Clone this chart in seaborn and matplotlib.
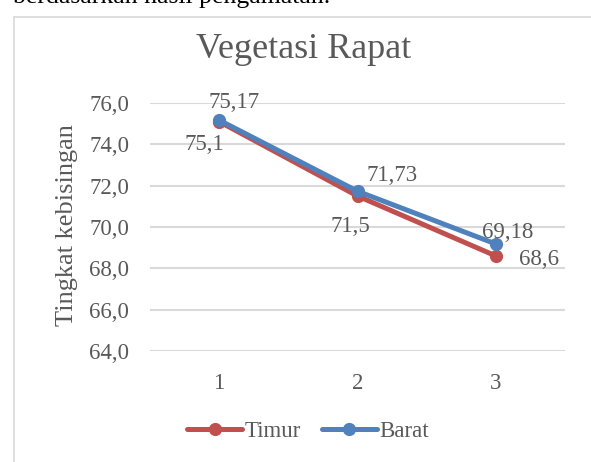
import matplotlib
matplotlib.use("Agg")
import matplotlib.pyplot as plt
import pandas as pd
import seaborn as sns

# data
titik = [1, 2, 3]
timur = [75.1, 71.5, 68.6]
barat = [75.17, 71.73, 69.18]
label_timur = ["75,1", "71,5", "68,6"]
label_barat = ["75,17", "71,73", "69,18"]
yticks = [64, 66, 68, 70, 72, 74, 76]

df = pd.DataFrame({
    "titik": titik * 2,
    "nilai": timur + barat,
    "arah": ["Timur"] * 3 + ["Barat"] * 3,
})

sns.set_theme(style="white")
plt.rcParams["font.family"] = ["Liberation Serif", "DejaVu Serif"]

GRAY = "#595959"
GRID = "#D9D9D9"
palette = {"Timur": "#C0504D", "Barat": "#4F81BD"}

fig = plt.figure(figsize=(5.91, 4.62), dpi=100)
ax = fig.add_axes([150 / 591, 1 - 351 / 462, 415 / 591, 248 / 462])

sns.lineplot(
    data=df, x="titik", y="nilai", hue="arah", hue_order=["Timur", "Barat"],
    palette=palette, marker="o", markersize=9.5, markeredgewidth=0,
    linewidth=3.6, ax=ax, legend=False,
)

ax.set_xlim(0.5, 3.5)
ax.set_ylim(64, 76)
ax.set_yticks(yticks)
ax.set_yticklabels([f"{v:.1f}".replace(".", ",") for v in yticks])
ax.set_xticks(titik)
ax.set_xticklabels([str(t) for t in titik])
ax.yaxis.grid(True, color=GRID, linewidth=1.5, zorder=0)
ax.set_axisbelow(True)
for s in ax.spines.values():
    s.set_visible(False)
ax.tick_params(axis="both", length=0, labelsize=16.5, labelcolor=GRAY)
ax.tick_params(axis="y", pad=15)
ax.tick_params(axis="x", pad=16)
ax.set_xlabel("")
ax.set_ylabel("")
fig.text(67 / 591, 1 - 225 / 462, "Tingkat kebisingan", rotation=90,
         ha="center", va="center", fontsize=19, color=GRAY)

# data labels (offsets in pixels, as placed in the reference)
off_timur = [(-15, -23), (-7, -30), (43, -4)]
off_barat = [(15, 18), (35, 16), (12, 11)]
for x, y, t, o in zip(titik, timur, label_timur, off_timur):
    ax.annotate(t, (x, y), xytext=o, textcoords="offset pixels",
                ha="center", va="center", fontsize=16.5, color=GRAY)
for x, y, t, o in zip(titik, barat, label_barat, off_barat):
    ax.annotate(t, (x, y), xytext=o, textcoords="offset pixels",
                ha="center", va="center", fontsize=16.5, color=GRAY)

fig.text(304 / 591, 1 - 50 / 462, "Vegetasi Rapat", ha="center", va="center",
         fontsize=26, color=GRAY)

# legend
handles = [plt.Line2D([], [], color=palette[k], linewidth=3.6, marker="o",
                      markersize=9.5, markeredgewidth=0) for k in ["Timur", "Barat"]]
fig.legend(handles, ["Timur", "Barat"], loc="center", bbox_to_anchor=(308 / 591, 1 - 431 / 462),
           ncol=2, frameon=False, fontsize=16.5, labelcolor=GRAY,
           handlelength=2.4, handletextpad=0.1, columnspacing=0.9)

# chart border (left and top) and the cut-off sentence above
fig.add_artist(plt.Line2D([14 / 591, 14 / 591], [0, 1 - 17 / 462], color=GRID, linewidth=1.2))
fig.add_artist(plt.Line2D([14 / 591, 1], [1 - 17 / 462, 1 - 17 / 462], color=GRID, linewidth=1.2))
fig.text(13 / 591, 1 - 3 / 462, "berdasarkan hasil pengamatan.", ha="left", va="baseline",
         fontsize=18.5, color="black")

fig.savefig("out.png", dpi=100)
